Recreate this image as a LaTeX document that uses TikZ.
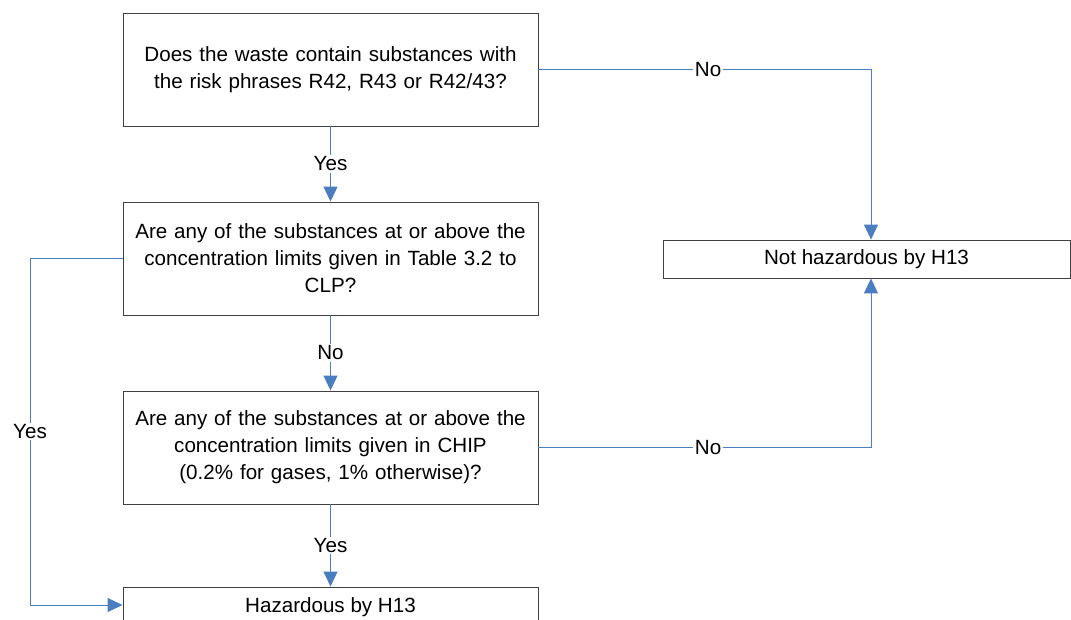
\documentclass[tikz,border=0pt]{standalone}
\usepackage{fontspec}
\setmainfont{Liberation Sans}
\usetikzlibrary{arrows.meta,calc}
\definecolor{flowblue}{RGB}{74,126,192}
\definecolor{boxline}{RGB}{64,64,64}
\begin{document}
\begin{tikzpicture}[x=1pt,y=-1pt,
  font=\fontsize{20.6}{27}\selectfont,
  qbox/.style={draw=boxline,line width=0.9pt,fill=white,minimum width=415pt,
    minimum height=113pt,align=center,inner sep=0pt,text width=410pt},
  flat/.style={draw=boxline,line width=0.9pt,fill=white,align=center,inner sep=0pt},
  flow/.style={draw=flowblue,line width=1pt,-{Triangle[length=15pt,width=14pt]},fill=none},
  lbl/.style={fill=white,inner sep=1.5pt,text=black}]
\useasboundingbox (0,0) rectangle (1071,620);
\clip (0,0) rectangle (1071,620);

% decision boxes
\node[qbox] (q1) at (330.5,69.5) {Does the waste contain substances with\\the risk phrases R42, R43 or R42/43?};
\node[qbox] (q2) at (330.5,258.5) {Are any of the substances at or above the\\concentration limits given in Table 3.2 to\\CLP?};
\node[qbox] (q3) at (330.5,447.5) {Are any of the substances at or above the\\concentration limits given in CHIP\\(0.2\% for gases, 1\% otherwise)?};

% outcomes
\node[flat,minimum width=407pt,minimum height=38pt] (nh) at (866.5,259) {Not hazardous by H13};
\node[flat,minimum width=415pt,minimum height=40pt] (hz) at (330.5,607) {Hazardous by H13};

\coordinate (nhtop) at ([xshift=4.5pt]nh.north);
\coordinate (nhbot) at ([xshift=4.5pt]nh.south);
\coordinate (lft) at (30,258.5);

% connectors
\draw[flow] (q1.south) -- node[lbl]{Yes} (q2.north);
\draw[flow] (q2.south) -- node[lbl]{No} (q3.north);
\draw[flow] (q3.south) -- node[lbl]{Yes} (hz.north);
\draw[flow] (q1.east) -| node[lbl,pos=0.255]{No} (nhtop);
\draw[flow] (q3.east) -| node[lbl,pos=0.255]{No} (nhbot);
\draw[draw=flowblue,line width=1pt] (q2.west) -- (lft);
\draw[flow] (lft) |- node[lbl,pos=0.25]{Yes} ([yshift=2pt]hz.west);
\end{tikzpicture}
\end{document}
